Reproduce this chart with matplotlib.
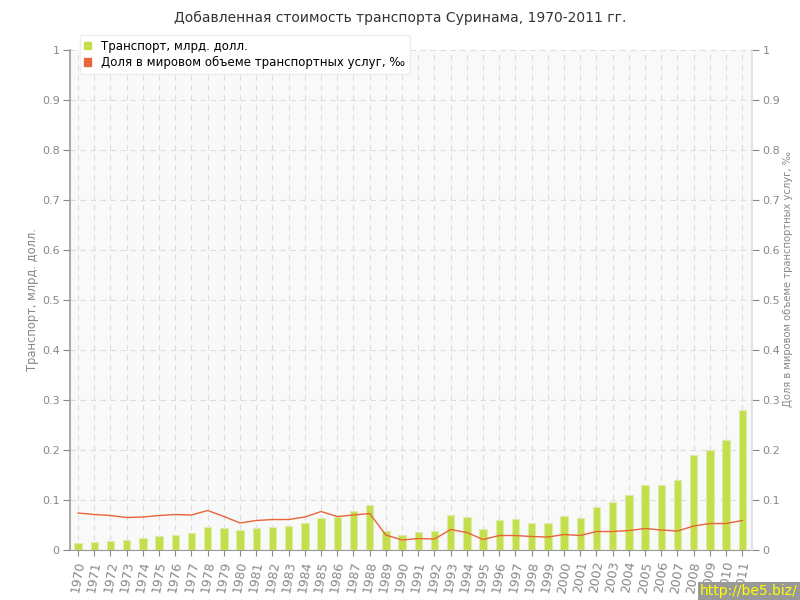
import numpy as np
import matplotlib
matplotlib.use('Agg')
from matplotlib import pyplot as plt
from matplotlib.ticker import FuncFormatter
from matplotlib.patches import Patch

years = list(range(1970, 2012))
transport = [0.015, 0.017, 0.019, 0.021, 0.024, 0.029, 0.031, 0.035, 0.047, 0.045,
             0.041, 0.045, 0.047, 0.049, 0.054, 0.065, 0.067, 0.078, 0.091, 0.039,
             0.030, 0.036, 0.038, 0.071, 0.066, 0.043, 0.060, 0.062, 0.055, 0.055,
             0.069, 0.065, 0.087, 0.096, 0.111, 0.130, 0.130, 0.140, 0.190, 0.200,
             0.220, 0.280]
share = [0.074, 0.071, 0.069, 0.065, 0.066, 0.069, 0.071, 0.070, 0.079, 0.067,
         0.054, 0.059, 0.061, 0.061, 0.066, 0.077, 0.067, 0.070, 0.073, 0.030,
         0.020, 0.023, 0.022, 0.041, 0.035, 0.021, 0.029, 0.029, 0.027, 0.026,
         0.031, 0.029, 0.037, 0.037, 0.039, 0.043, 0.040, 0.038, 0.048, 0.053,
         0.053, 0.059]

title = 'Добавленная стоимость транспорта Суринама, 1970-2011 гг.'
left_label = 'Транспорт, млрд. долл.'
right_label = 'Доля в мировом объеме транспортных услуг, ‰'

gray = '#888888'
bar_color = '#c3df4a'
line_color = '#e8643a'

fig = plt.figure(figsize=(8, 6), dpi=100)
ax = fig.add_axes([0.0875, 0.0833, 0.8525, 0.8334])
ax.set_facecolor('#f9f9f9')
x = np.arange(len(years))

ax.bar(x, transport, width=0.45, color=bar_color, edgecolor='#dcebb0', linewidth=0.8,
       zorder=3, label='Транспорт, млрд. долл.')
ax2 = ax.twinx()
ax2.plot(x, share, color=line_color, linewidth=1.0, zorder=4,
         label='Доля в мировом объеме транспортных услуг, ‰')

for a in (ax, ax2):
    a.set_ylim(0, 1)
    a.set_yticks(np.arange(0, 1.01, 0.1))
    a.yaxis.set_major_formatter(FuncFormatter(lambda v, p: '%g' % round(v, 1)))
    a.tick_params(axis='y', colors=gray, labelsize=8, length=5, pad=2.5, direction='out')
    for s in a.spines.values():
        s.set_visible(False)
ax.spines['left'].set_visible(True)
ax.spines['left'].set_color('#999999')
ax.spines['left'].set_linewidth(1.2)
ax2.spines['right'].set_visible(True)
ax2.spines['right'].set_color('#dddddd')
ax2.spines['right'].set_linewidth(1.2)
ax.spines['bottom'].set_visible(True)
ax.spines['bottom'].set_color('#999999')

ax.set_xlim(-0.5, 41.6)
ax.set_xticks(x)
ax.set_xticklabels([str(y) for y in years], rotation=80, fontsize=9, color=gray)
ax.tick_params(axis='x', colors=gray, length=4)
ax.grid(True, color='#dddddd', linestyle=(0, (5, 4)), linewidth=0.8, zorder=0)
ax.set_axisbelow(True)

ax.set_ylabel(left_label, color=gray, fontsize=8.3)
ax.yaxis.set_label_coords(-0.045, 0.5)
# right label drawn as figure text so it stays inside the canvas
fig.text(0.985, 0.535, right_label, rotation=90, ha='center', va='center',
         fontsize=7.2, color=gray)

fig.text(0.5, 0.97, title, ha='center', va='center', fontsize=10, color='#333333')

handles = [Patch(color=bar_color), Patch(color=line_color)]
labels = [ax.get_legend_handles_labels()[1][0], ax2.get_legend_handles_labels()[1][0]]
leg = ax2.legend(handles, labels, loc='upper left', bbox_to_anchor=(0.014, 1.03),
                 borderaxespad=0, fontsize=8.5, frameon=True, fancybox=True,
                 handlelength=0.6, handleheight=0.6, handletextpad=0.8,
                 borderpad=0.4, labelspacing=0.3)
leg.get_frame().set_edgecolor('#eeeeee')
leg.get_frame().set_facecolor('white')
leg.get_frame().set_alpha(1.0)

fig.text(0.997, 0.003, 'http://be5.biz/', ha='right', va='bottom', fontsize=10,
         color='#ffff00', bbox=dict(boxstyle='square,pad=0.15', fc='#999999', ec='none'))

plt.savefig('out.png', dpi=100)
plt.close()
